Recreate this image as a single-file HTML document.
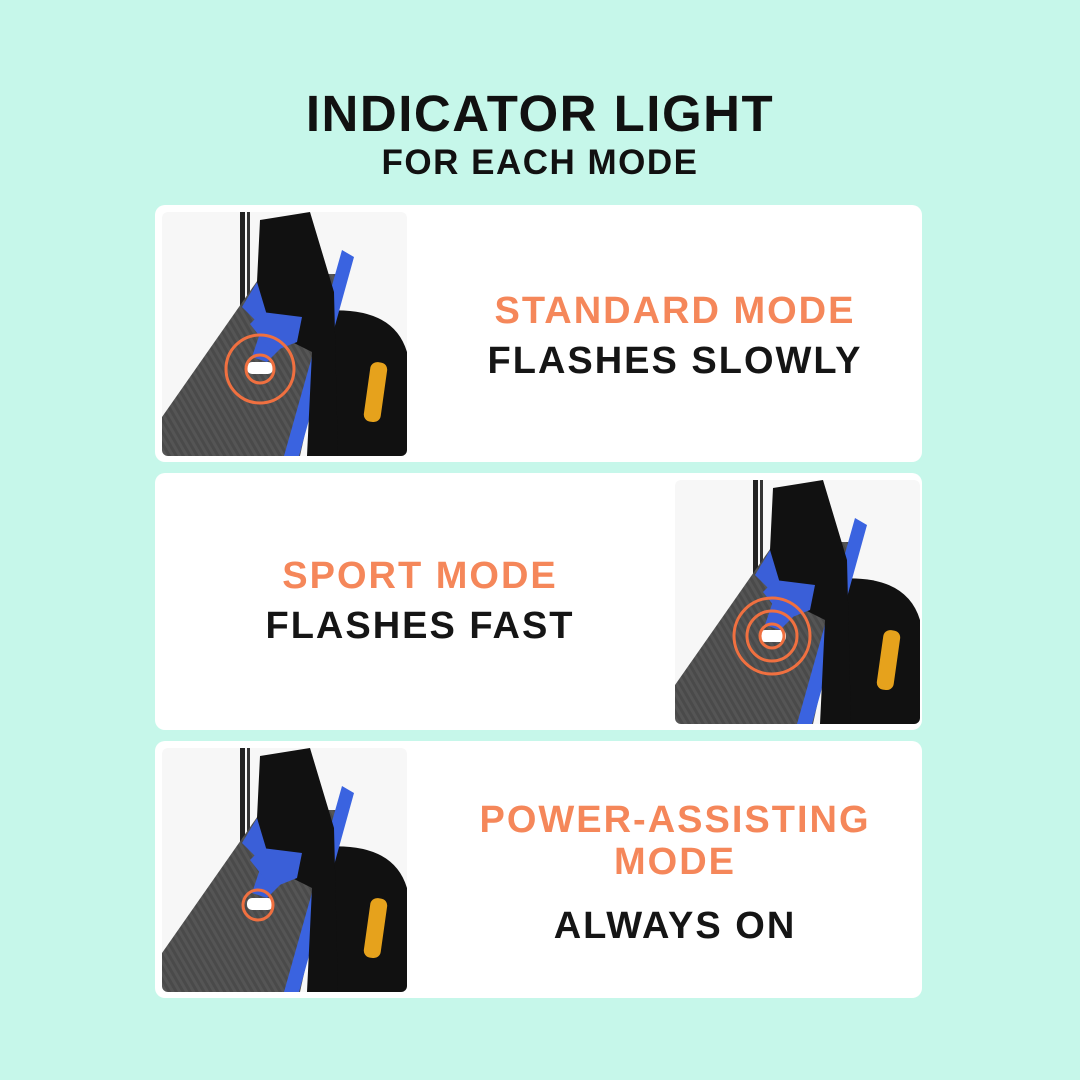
<!DOCTYPE html>
<html><head><meta charset="utf-8"><style>
body{margin:0;width:1080px;height:1080px;background:#c6f7ea;font-family:"Liberation Sans",sans-serif;position:relative;overflow:hidden}
.t{position:absolute;left:0;width:1080px;text-align:center;font-weight:bold;color:#111}
.card{position:absolute;left:155px;width:767px;height:257px;background:#fff;border-radius:10px}
.tx{position:absolute;text-align:center;font-weight:bold;font-size:38px;letter-spacing:2px;line-height:50px}
.o{color:#f5875a}.k{color:#151515}
svg{position:absolute;left:0;top:0}
</style></head><body>
<div class="t" style="top:84px;font-size:51px;letter-spacing:1.5px">INDICATOR LIGHT</div>
<div class="t" style="top:143px;font-size:35px;letter-spacing:1.5px">FOR EACH MODE</div>
<div class="card" style="top:205px"></div>
<div class="card" style="top:473px"></div>
<div class="card" style="top:741px"></div>
<svg width="1080" height="1080">
<defs>
<pattern id="cf" width="6" height="6" patternUnits="userSpaceOnUse" patternTransform="rotate(-30)"><rect width="6" height="6" fill="#4a4a4a"/><rect width="3" height="6" fill="#555"/></pattern>
<clipPath id="cp"><rect x="0" y="0" width="245" height="244" rx="6"/></clipPath>
<g id="sc">
<g clip-path="url(#cp)">
<rect x="0" y="0" width="245" height="244" fill="#f7f7f7"/>
<rect x="78" y="0" width="5" height="100" fill="#222"/><rect x="85" y="0" width="3" height="95" fill="#333"/>
<path d="M150 100 Q230 90 245 140 L245 244 L150 244 Z" fill="#111"/>
<path d="M0 244 L0 205 L100 62 L178 62 L138 244 Z" fill="url(#cf)"/>
<path d="M100 62 L135 95 L130 125 L105 150 L90 145 L100 115 L80 95 Z" fill="#3a5fd8"/>
<path d="M122 244 L137 244 L192 45 L180 38 Z" fill="#3a63e0"/>
<path d="M98 8 L148 0 L172 80 L176 244 L145 244 L150 140 L130 130 L110 120 L95 70 Z" fill="#111"/>
<path d="M88 112 L100 100 L140 105 L135 130 L110 140 Z" fill="#3a5fd8"/>
<rect x="205" y="150" width="17" height="60" rx="7" fill="#e6a21c" transform="rotate(8 213 180)"/>
<rect x="85" y="150" width="26" height="12" rx="5" fill="#fff"/>
</g></g>
</defs>
<use href="#sc" x="162" y="212"/>
<circle cx="260" cy="369" r="14" fill="none" stroke="#f07040" stroke-width="3"/>
<circle cx="260" cy="369" r="34" fill="none" stroke="#f07040" stroke-width="3"/>
<use href="#sc" x="675" y="480"/>
<circle cx="772" cy="636" r="12" fill="none" stroke="#f07040" stroke-width="3"/>
<circle cx="772" cy="636" r="25" fill="none" stroke="#f07040" stroke-width="3"/>
<circle cx="772" cy="636" r="38" fill="none" stroke="#f07040" stroke-width="3"/>
<use href="#sc" x="162" y="748"/>
<circle cx="258" cy="905" r="15" fill="none" stroke="#f07040" stroke-width="3"/>
</svg>
<div class="tx" style="left:430px;width:490px;top:286px"><span class="o">STANDARD MODE</span><br><span class="k">FLASHES SLOWLY</span></div>
<div class="tx" style="left:175px;width:490px;top:551px"><span class="o">SPORT MODE</span><br><span class="k">FLASHES FAST</span></div>
<div class="tx" style="left:430px;width:490px;top:799px;line-height:42px"><span class="o">POWER-ASSISTING<br>MODE</span></div>
<div class="tx" style="left:430px;width:490px;top:901px"><span class="k">ALWAYS ON</span></div>
</body></html>
